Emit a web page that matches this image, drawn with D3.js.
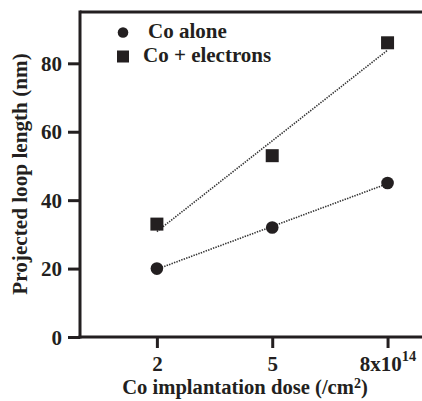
<!DOCTYPE html>
<html><head><meta charset="utf-8">
<script src="https://cdn.jsdelivr.net/npm/d3@7"></script>
<style>body{margin:0;background:#fff}</style>
</head><body><svg id="c" width="422" height="401"></svg>
<script>
const doses = [2, 5, 8];
const coAlone = [20, 32, 45];
const coElectrons = [33, 53, 86];
const yTicks = [0, 20, 40, 60, 80];
const xTickLabels = ["2", "5", "8x10"];
const seriesNames = ["Co alone", "Co + electrons"];

const FONT = "'Liberation Serif', 'Times New Roman', 'DejaVu Serif', serif";
const svg = d3.select("#c");
const ink = "#231f20";
const x = d3.scaleLinear().domain([0, 9]).range([80, 426]);
const y = d3.scaleLinear().domain([0, 95]).range([337, 12]);

function fit(xs, ys){
  const mx = d3.mean(xs), my = d3.mean(ys);
  const b = d3.sum(xs.map((v,i)=>(v-mx)*(ys[i]-my))) / d3.sum(xs.map(v=>(v-mx)*(v-mx)));
  return v => my + b*(v-mx);
}
[coAlone, coElectrons].forEach(s=>{
  const f = fit(doses, s);
  svg.append("line").attr("x1", x(2)).attr("y1", y(f(2))).attr("x2", x(8)).attr("y2", y(f(8)))
    .attr("stroke", "#333").attr("stroke-width", 1.6).attr("stroke-dasharray", "1.4,1.2");
});

svg.append("line").attr("x1", x(0)).attr("x2", 422).attr("y1", y(95)).attr("y2", y(95))
  .attr("stroke", ink).attr("stroke-width", 3);

const yAxis = d3.axisLeft(y).tickValues(yTicks).tickSize(12).tickPadding(6).tickFormat(d3.format("d"));
const gy = svg.append("g").attr("transform", `translate(${x(0)},0)`).call(yAxis);
const xAxis = d3.axisBottom(x).tickValues(doses).tickSize(11).tickPadding(10).tickFormat((d,i)=>xTickLabels[i]);
const gx = svg.append("g").attr("transform", `translate(0,${y(0)})`).call(xAxis);
[gx, gy].forEach(g=>{
  g.attr("font-family", FONT);
  g.select(".domain").remove();
  g.selectAll(".tick line").attr("stroke", ink).attr("stroke-width", 3);
  g.selectAll("text").attr("font-size", 21).attr("fill", ink).style("font-family", FONT).style("font-weight", "bold");
});
gy.selectAll(".tick text").attr("dy", "0.34em");
gx.selectAll(".tick text").attr("dy", "0.64em").attr("text-anchor","middle");
gx.selectAll(".tick").filter((d,i)=>i===2).select("text")
  .append("tspan").attr("dy", -10).attr("font-size", 14.5).text("14");
svg.append("line").attr("x1", x(0)).attr("x2", x(0)).attr("y1", y(95)-1.5).attr("y2", y(0)+1.5).attr("stroke", ink).attr("stroke-width", 3);
svg.append("line").attr("x1", x(0)-1.5).attr("x2", 422).attr("y1", y(0)).attr("y2", y(0)).attr("stroke", ink).attr("stroke-width", 3);

svg.append("g").selectAll("circle").data(coAlone).join("circle")
  .attr("cx", (d,i)=>x(doses[i])).attr("cy", d=>y(d)).attr("r", 6.3).attr("fill", ink);
svg.append("g").selectAll("rect").data(coElectrons).join("rect")
  .attr("x", (d,i)=>x(doses[i])-6.5).attr("y", d=>y(d)-6.5).attr("width", 13).attr("height", 13).attr("fill", ink);

svg.append("circle").attr("cx", 123).attr("cy", 32.5).attr("r", 5.3).attr("fill", ink);
svg.append("rect").attr("x", 117).attr("y", 50.5).attr("width", 12).attr("height", 12).attr("fill", ink);
function T(sel){ return sel.style("font-family", FONT).style("font-weight", "bold").attr("fill", ink); }
T(svg.append("text").attr("x", 148).attr("y", 38).attr("font-size", 21).text(seriesNames[0]));
T(svg.append("text").attr("x", 143).attr("y", 62).attr("font-size", 21).text(seriesNames[1]));

T(svg.append("text").attr("transform", "translate(27,174) rotate(-90)").attr("text-anchor", "middle")
  .attr("font-size", 21.2).text("Projected loop length (nm)"));
const xt = T(svg.append("text").attr("x", 245).attr("y", 394).attr("text-anchor", "middle").attr("font-size", 20.6));
xt.append("tspan").text("Co implantation dose (/cm");
xt.append("tspan").attr("dy", -6).attr("font-size", 14).text("2");
xt.append("tspan").attr("dy", 6).text(")");
</script></body></html>
